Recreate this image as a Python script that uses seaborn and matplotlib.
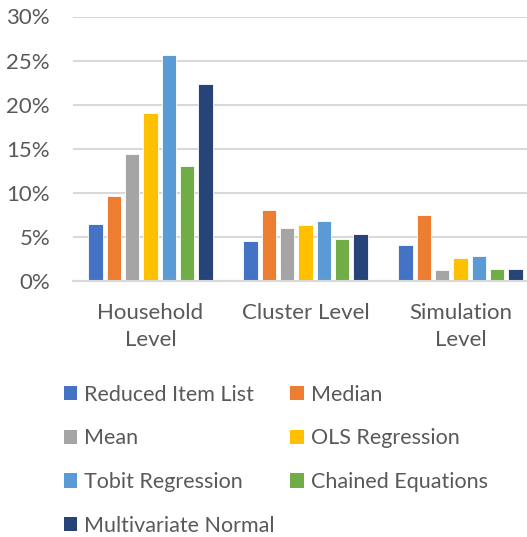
import numpy as np
import pandas as pd
import matplotlib
matplotlib.use("Agg")
import matplotlib.pyplot as plt
import seaborn as sns
from matplotlib.patches import Patch
from matplotlib.ticker import PercentFormatter

levels = ["Household\nLevel", "Cluster Level", "Simulation\nLevel"]
methods = ["Reduced Item List", "Median", "Mean", "OLS Regression",
           "Tobit Regression", "Chained Equations", "Multivariate Normal"]

reduced_item = [6.5, 4.5, 4.1]
median = [9.6, 8.1, 7.5]
mean = [14.4, 6.0, 1.2]
ols = [19.0, 6.3, 2.6]
tobit = [25.6, 6.8, 2.8]
chained = [13.1, 4.8, 1.4]
mvn = [22.3, 5.3, 1.4]

colors = ["#4472C4", "#ED7D31", "#A5A5A5", "#FFC000",
          "#5B9BD5", "#70AD47", "#264478"]

series = [reduced_item, median, mean, ols, tobit, chained, mvn]
df = pd.DataFrame({
    "level": np.tile(levels, len(methods)),
    "method": np.repeat(methods, len(levels)),
    "value": np.concatenate(series),
})

sns.set_theme(style="white")
plt.rcParams["font.family"] = ["Lato", "DejaVu Sans"]
text_color = "#595959"
grid_color = "#D9D9D9"

fig = plt.figure(figsize=(5.27, 5.37), dpi=100)
ax = fig.add_axes([73 / 527, 1 - 281 / 537, 465 / 527, (281 - 16.5) / 537])

sns.barplot(data=df, x="level", y="value", hue="method", order=levels,
            hue_order=methods, palette=colors, saturation=1, width=0.826,
            gap=0.22, edgecolor="white", linewidth=0.6, legend=False, ax=ax)

ax.set_ylim(0, 30)
ax.set_xlim(-0.5, 2.5)
ax.set_yticks(np.arange(0, 31, 5))
ax.yaxis.set_major_formatter(PercentFormatter(decimals=0))
ax.yaxis.grid(True, color=grid_color, linewidth=1.5)
ax.set_axisbelow(True)
for s in ["top", "right", "left"]:
    ax.spines[s].set_visible(False)
ax.spines["bottom"].set_color(grid_color)
ax.spines["bottom"].set_linewidth(1.5)
ax.set_xlabel("")
ax.set_ylabel("")
ax.tick_params(axis="both", length=0, colors=text_color, labelsize=16)
ax.tick_params(axis="y", pad=16.5)
ax.tick_params(axis="x", pad=16)
for lbl in ax.get_yticklabels():
    lbl.set_horizontalalignment("right")
for lbl in ax.get_xticklabels():
    lbl.set_linespacing(1.4)

# legend, row-major order as in the reference
order = [0, 2, 4, 6, 1, 3, 5]
handles = [Patch(facecolor=colors[i], edgecolor="none") for i in order]
labels = [methods[i] for i in order]
leg = fig.legend(handles, labels, ncol=2, loc="upper left",
                 bbox_to_anchor=(55 / 527, 1 - 376 / 537), frameon=False,
                 fontsize=15.5, labelcolor=text_color, handlelength=0.64,
                 handleheight=0.64, handletextpad=0.3, columnspacing=0.75,
                 labelspacing=1.1, borderaxespad=0)

fig.savefig("out.png", dpi=100)
